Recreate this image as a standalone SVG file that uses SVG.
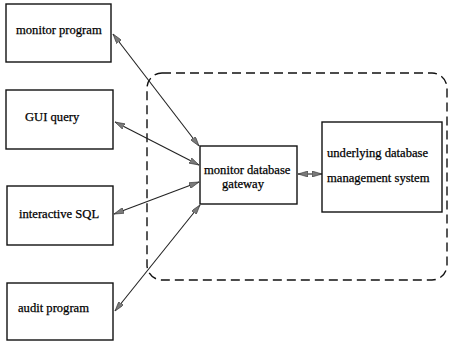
<svg xmlns="http://www.w3.org/2000/svg" width="450" height="342" viewBox="0 0 450 342">
  <style>
    .box { fill: #fff; stroke: #111; stroke-width: 1.4; }
    .lbl { font-family: "Liberation Serif", "Times New Roman", serif; font-size: 12.6px; fill: #000; stroke: #000; stroke-width: 0.25; }
    .conn { stroke: #222; stroke-width: 1.1; fill: none; marker-start: url(#head); marker-end: url(#head); }
    .boundary { fill: none; stroke: #111; stroke-width: 1.4; stroke-dasharray: 9 5; }
  </style>
  <defs>
    <marker id="head" viewBox="0 0 10 6" refX="10" refY="3" markerWidth="10" markerHeight="6" markerUnits="userSpaceOnUse" orient="auto-start-reverse">
      <path d="M0,0 L10,3 L0,6 Z" fill="#7a7a7a" stroke="#333" stroke-width="0.6"/>
    </marker>
  </defs>
  <rect width="450" height="342" fill="#fff"/>

  <!-- gateway boundary -->
  <rect class="boundary" x="147" y="73" width="300" height="207" rx="15" ry="15"/>

  <g id="connectors">
    <line class="conn" x1="113" y1="34" x2="199" y2="146"/>
    <line class="conn" x1="115" y1="122" x2="199" y2="165"/>
    <line class="conn" x1="114" y1="214" x2="199" y2="182"/>
    <line class="conn" x1="115" y1="311" x2="200" y2="205"/>
    <line class="conn" x1="298" y1="174" x2="322" y2="174"/>
  </g>

  <g id="monitor-program">
    <rect class="box" x="6" y="4" width="105" height="58"/>
    <text class="lbl" x="16" y="34">monitor program</text>
  </g>
  <g id="gui-query">
    <rect class="box" x="6" y="90" width="107" height="59"/>
    <text class="lbl" x="25" y="121">GUI query</text>
  </g>
  <g id="interactive-sql">
    <rect class="box" x="7" y="186" width="106" height="59"/>
    <text class="lbl" x="19" y="218">interactive SQL</text>
  </g>
  <g id="audit-program">
    <rect class="box" x="7" y="283" width="106" height="57"/>
    <text class="lbl" x="18" y="312">audit program</text>
  </g>
  <g id="monitor-database-gateway">
    <rect class="box" x="200" y="146" width="97" height="58"/>
    <text class="lbl" x="204" y="174">monitor database</text>
    <text class="lbl" x="222" y="188">gateway</text>
  </g>
  <g id="underlying-dbms">
    <rect class="box" x="322" y="122" width="120" height="90"/>
    <text class="lbl" x="327" y="157">underlying database</text>
    <text class="lbl" x="327" y="182">management system</text>
  </g>
</svg>
